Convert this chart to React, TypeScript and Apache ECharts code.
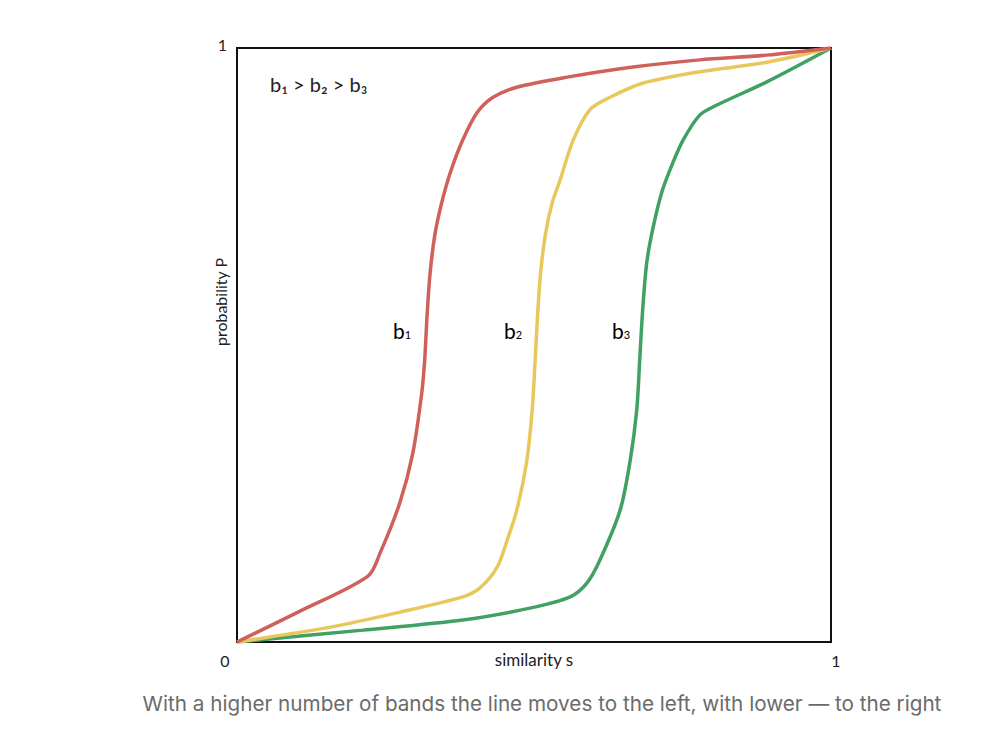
import React, { useEffect, useRef } from "react";
import * as echarts from "echarts";

const b1Points: [number, number][] = [
  [0, 0], [0.106, 0.052], [0.2205, 0.111], [0.241, 0.15], [0.274, 0.234], [0.296, 0.318],
  [0.311, 0.419], [0.316, 0.475], [0.32, 0.55], [0.325, 0.62], [0.333, 0.685], [0.344, 0.737],
  [0.359, 0.79], [0.38, 0.845], [0.404, 0.891], [0.431, 0.917], [0.471, 0.934],
  [0.556, 0.951], [0.667, 0.968], [0.779, 0.98], [0.892, 0.988], [1, 1],
];
const b2Points: [number, number][] = [
  [0, 0], [0.157, 0.025], [0.269, 0.049], [0.38, 0.076], [0.409, 0.091], [0.438, 0.126],
  [0.455, 0.172], [0.471, 0.222], [0.488, 0.306], [0.497, 0.391], [0.502, 0.475],
  [0.506, 0.55], [0.511, 0.62], [0.519, 0.685], [0.53, 0.737], [0.544, 0.778], [0.566, 0.845],
  [0.594, 0.896], [0.628, 0.917], [0.684, 0.941], [0.779, 0.96], [0.892, 0.976], [1, 1],
];
const b3Points: [number, number][] = [
  [0, 0], [0.212, 0.02], [0.38, 0.037], [0.493, 0.057], [0.561, 0.076], [0.589, 0.099],
  [0.611, 0.138], [0.645, 0.222], [0.662, 0.306], [0.673, 0.391], [0.678, 0.475],
  [0.683, 0.56], [0.69, 0.64], [0.701, 0.7], [0.716, 0.76], [0.733, 0.805], [0.751, 0.845],
  [0.779, 0.887], [0.808, 0.904], [0.892, 0.943], [1, 1],
];
const seriesNames = ["b1", "b2", "b3"];
const seriesColors = ["#d0605a", "#e8c85c", "#41a063"];
const tickValues = [0, 1];
const xAxisTitle = "similarity s";
const yAxisTitle = "probability P";
const orderText = "b₁ > b₂ > b₃";
const caption = "With a higher number of bands the line moves to the left, with lower — to the right";

const FONT = "Lato, 'Noto Sans', sans-serif";

export default function App() {
  const ref = useRef<HTMLDivElement>(null);
  useEffect(() => {
    document.body.style.margin = "0";
    const chart = echarts.init(ref.current!, undefined, { renderer: "svg" });
    const allData = [b1Points, b2Points, b3Points];
    const labelRich = {
      b: { fontSize: 21, fontFamily: FONT, color: "#222" },
      s: { fontSize: 11, fontFamily: FONT, color: "#222", padding: [8, 0, 0, 0] },
    };
    chart.setOption({
      animation: false,
      backgroundColor: "#ffffff",
      grid: {
        left: 237, top: 48, width: 594, height: 594,
        show: true, borderColor: "#111", borderWidth: 2,
      },
      xAxis: {
        type: "value", min: 0, max: 1, interval: 1,
        axisLine: { show: false }, axisTick: { show: false }, splitLine: { show: false },
        name: xAxisTitle, nameLocation: "middle", nameGap: 9, nameMoveOverlap: false,
        nameTextStyle: { fontSize: 17, fontFamily: FONT, color: "#222", verticalAlign: "top" },
        axisLabel: {
          margin: 10, fontSize: 16, fontFamily: FONT, color: "#222",
          formatter: (v: number) => (v === 0 ? "{l|" + tickValues[0] + "}" : "{r|" + tickValues[1] + "}"),
          rich: {
            l: { fontSize: 16, fontFamily: FONT, color: "#222", padding: [0, 24, 0, 0] },
            r: { fontSize: 16, fontFamily: FONT, color: "#222", padding: [0, 0, 0, 10] },
          },
        },
      },
      yAxis: {
        type: "value", min: 0, max: 1, interval: 1,
        axisLine: { show: false }, axisTick: { show: false }, splitLine: { show: false },
        axisLabel: {
          margin: 10, fontSize: 16, fontFamily: FONT, color: "#222",
          formatter: (v: number) => (v === 1 ? "{t|" + tickValues[1] + "}" : ""),
          rich: { t: { fontSize: 16, fontFamily: FONT, color: "#222", padding: [0, 0, 8, 0] } },
        },
      },
      series: allData.map((d, i) => ({
        name: seriesNames[i],
        type: "line",
        data: d,
        smooth: 0.3,
        showSymbol: false,
        symbol: "none",
        lineStyle: { color: seriesColors[i], width: 3.5 },
        z: 3 - i,
      })),
      graphic: [
        {
          type: "text", left: 270, top: 74,
          style: { text: orderText, fontSize: 20, fontFamily: FONT, fill: "#222" },
        },
        {
          type: "text", x: 220, y: 302, rotation: Math.PI / 2,
          style: { text: yAxisTitle, fontSize: 16, fontFamily: FONT, fill: "#222", align: "center", verticalAlign: "middle" },
        },
        ...[["1", 402], ["2", 513], ["3", 621]].map(([n, x]) => ({
          type: "text", x: x as number, y: 330,
          style: {
            text: "{b|b}{s|" + n + "}", rich: labelRich, align: "center", verticalAlign: "middle",
          },
        })),
        {
          type: "text", x: 542, y: 703,
          style: {
            text: caption, fontSize: 20.7, fontFamily: "Inter, 'Noto Sans', sans-serif",
            fill: "#6b6b6b", align: "center", verticalAlign: "middle",
          },
        },
      ],
    });
    return () => chart.dispose();
  }, []);
  return <div ref={ref} style={{ width: 1000, height: 746 }} />;
}
